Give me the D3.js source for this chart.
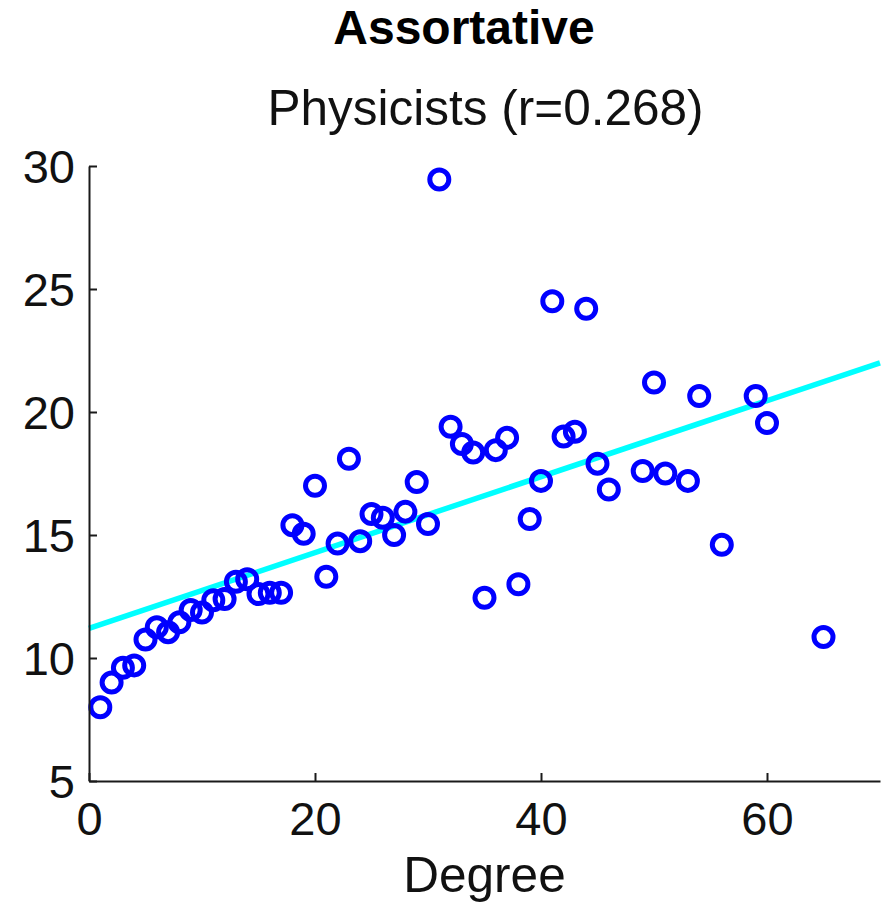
<!DOCTYPE html>
<html>
<head>
<meta charset="utf-8">
<script src="https://cdn.jsdelivr.net/npm/d3@7"></script>
<style>
  html, body { margin: 0; padding: 0; background: #fff; }
  #chart { width: 891px; height: 904px; }
  text { font-family: 'Liberation Sans', Arial, sans-serif; }
</style>
</head>
<body>
<div id="chart"></div>
<script>
// ===== data =====
const degree = [1, 2, 3, 4, 5, 6, 7, 8, 9, 10, 11, 12, 13, 14, 15, 16, 17, 18, 19, 20,
  21, 22, 23, 24, 25, 26, 27, 28, 29, 30, 31, 32, 33, 34, 35, 36, 37, 38, 39, 40,
  41, 42, 43, 44, 45, 46, 49, 50, 51, 53, 54, 56, 59, 60, 65];
const neighbourDegree = [8.0, 9.0, 9.6, 9.7, 10.75, 11.25, 11.05, 11.45, 11.95, 11.85,
  12.35, 12.4, 13.1, 13.2, 12.6, 12.65, 12.65, 15.4, 15.05, 17.0,
  13.3, 14.65, 18.1, 14.75, 15.85, 15.7, 15.0, 15.95, 17.15, 15.45,
  29.45, 19.4, 18.7, 18.35, 12.45, 18.45, 18.95, 13.0, 15.65, 17.2,
  24.5, 19.0, 19.2, 24.2, 17.9, 16.85, 17.6, 21.2, 17.5, 17.2,
  20.65, 14.6, 20.65, 19.55, 10.85];
// fitted trend line end points
const fitX = [0, 70];
const fitY = [11.2, 22.0];

const xTicks = [0, 20, 40, 60];
const yTicks = [5, 10, 15, 20, 25, 30];

const titleText = 'Assortative';
const subtitleText = 'Physicists (r=0.268)';
const xLabel = 'Degree';

// ===== layout =====
const W = 891, H = 904;
const margin = { top: 166, right: 11, bottom: 123, left: 89 };
const innerW = W - margin.left - margin.right;
const innerH = H - margin.top - margin.bottom;

const svg = d3.select('#chart').append('svg')
  .attr('width', W)
  .attr('height', H);

const g = svg.append('g')
  .attr('transform', `translate(${margin.left}, ${margin.top})`);

const x = d3.scaleLinear().domain([0, 70]).range([0, innerW]);
const y = d3.scaleLinear().domain([5, 30]).range([innerH, 0]);

// trend line
const fitData = fitX.map((d, i) => ({ x: d, y: fitY[i] }));
g.append('path')
  .datum(fitData)
  .attr('d', d3.line().x(d => x(d.x)).y(d => y(d.y)))
  .attr('fill', 'none')
  .attr('stroke', '#00ffff')
  .attr('stroke-width', 5.5);

// points
const points = degree.map((d, i) => ({ x: d, y: neighbourDegree[i] }));
g.selectAll('circle.pt')
  .data(points)
  .enter().append('circle')
  .attr('class', 'pt')
  .attr('cx', d => x(d.x))
  .attr('cy', d => y(d.y))
  .attr('r', 9.5)
  .attr('fill', 'none')
  .attr('stroke', '#0000ff')
  .attr('stroke-width', 5);

// axes (MATLAB style, ticks pointing inward)
const xAxis = d3.axisBottom(x).tickValues(xTicks).tickFormat(d3.format('d'))
  .tickSizeInner(-8).tickSizeOuter(0).tickPadding(21);
const yAxis = d3.axisLeft(y).tickValues(yTicks).tickFormat(d3.format('d'))
  .tickSizeInner(-8).tickSizeOuter(0).tickPadding(14);

const gx = g.append('g')
  .attr('transform', `translate(0, ${innerH})`)
  .call(xAxis);
const gy = g.append('g').call(yAxis);

[gx, gy].forEach(a => {
  a.select('.domain').attr('stroke', '#1a1a1a').attr('stroke-width', 2);
  a.selectAll('.tick line').attr('stroke', '#1a1a1a').attr('stroke-width', 2);
  a.selectAll('.tick text')
    .attr('fill', '#111')
    .style('font-size', '47px')
    .style('font-family', "'Liberation Sans', Arial, sans-serif");
});
gx.selectAll('.tick text').attr('dy', '0.71em');
gy.selectAll('.tick text').attr('dy', '0.36em');

// titles
svg.append('text')
  .attr('x', 464)
  .attr('y', 44)
  .attr('text-anchor', 'middle')
  .attr('font-size', '48px')
  .attr('font-weight', 'bold')
  .attr('fill', '#000')
  .text(titleText);

svg.append('text')
  .attr('x', 485.5)
  .attr('y', 125)
  .attr('text-anchor', 'middle')
  .attr('font-size', '49.5px')
  .attr('fill', '#111')
  .text(subtitleText);

// x label
svg.append('text')
  .attr('x', margin.left + innerW / 2)
  .attr('y', 892)
  .attr('text-anchor', 'middle')
  .attr('font-size', '49.5px')
  .attr('fill', '#111')
  .text(xLabel);
</script>
</body>
</html>
